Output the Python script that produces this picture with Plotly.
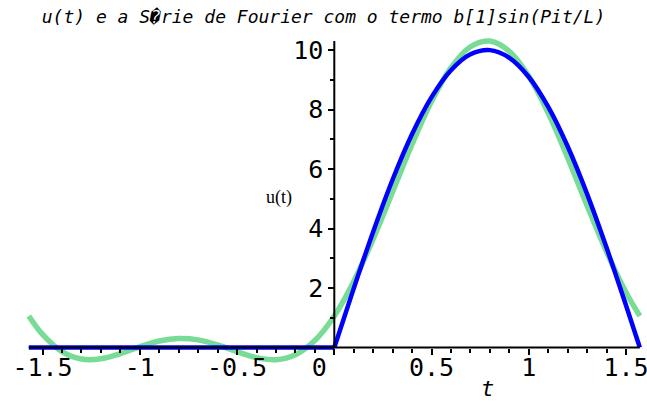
import plotly.graph_objects as go

# Fourier partial sum (green)
t_fourier = [-1.5708, -1.5, -1.4, -1.3, -1.2, -1.1, -1.0, -0.9, -0.8, -0.7, -0.6, -0.5, -0.4, -0.3,
             -0.2, -0.1, 0.0, 0.1, 0.2, 0.3, 0.4, 0.5, 0.6, 0.7, 0.8, 0.9, 1.0, 1.1, 1.2, 1.3,
             1.4, 1.5, 1.5708]
u_fourier = [1.061, 0.440, -0.138, -0.389, -0.380, -0.207, 0.024, 0.217, 0.304, 0.256, 0.088, -0.141,
             -0.342, -0.409, -0.242, 0.235, 1.061, 2.222, 3.652, 5.237, 6.832, 8.274, 9.408, 10.110,
             10.300, 9.955, 9.117, 7.878, 6.375, 4.766, 3.212, 1.851, 1.061]

# u(t) (blue): zero on the left half, a sine arch on the right half
t_u = [-1.5708, 0.0, None, 0.0, 0.1, 0.2, 0.3, 0.4, 0.5, 0.6, 0.7, 0.8, 0.9, 1.0, 1.1, 1.2, 1.3,
       1.4, 1.5, 1.5708]
u_vals = [0.0, 0.0, None, 0.0, 1.987, 3.894, 5.646, 7.174, 8.415, 9.320, 9.854, 9.996, 9.738,
          9.093, 8.085, 6.755, 5.155, 3.350, 1.411, 0.0]

x_tickvals = [-1.5, -1, -0.5, 0, 0.5, 1, 1.5]
x_ticktext = ["-1.5", "-1", "-0.5", "0\u00a0\u00a0", "0.5", "1", "1.5"]
x_minorvals = [-1.4, -1.3, -1.2, -1.1, -0.9, -0.8, -0.7, -0.6, -0.4, -0.3, -0.2, -0.1,
               0.1, 0.2, 0.3, 0.4, 0.6, 0.7, 0.8, 0.9, 1.1, 1.2, 1.3, 1.4]
y_tickvals = [2, 4, 6, 8, 10]
y_ticktext = ["2", "4", "6", "8", "10"]
y_minorvals = [1, 3, 5, 7, 9]

title_text = "u(t) e a S\ufffdrie de Fourier com o termo b[1]sin(Pit/L)"

W, H = 647, 402
x0_px, y0_px = 334.3, 347.5
x_scale, y_scale = 194.5, 29.75

fig = go.Figure()
fig.add_trace(go.Scatter(x=t_fourier, y=u_fourier, mode="lines",
                         line=dict(color="#78DC96", width=5.5, shape="spline"),
                         showlegend=False, hoverinfo="skip"))
fig.add_trace(go.Scatter(x=t_u, y=u_vals, mode="lines", connectgaps=False,
                         line=dict(color="#0000FF", width=4.5, shape="spline"),
                         showlegend=False, hoverinfo="skip"))

tmin = min(t_fourier)
tmax = max(t_fourier)
ymax = max(u_fourier)
fig.add_shape(type="line", xref="x", yref="y", x0=tmin, x1=tmax, y0=0, y1=0,
              line=dict(color="black", width=2), layer="above")
fig.add_shape(type="line", xref="x", yref="y", x0=0, x1=0, y0=0, y1=ymax,
              line=dict(color="black", width=2), layer="above")

tickfont = dict(family="DejaVu Sans Mono", size=25, color="black")

fig.update_layout(
    width=W, height=H,
    margin=dict(l=0, r=0, t=0, b=0),
    paper_bgcolor="white", plot_bgcolor="white",
    template="none",
    title=dict(text=title_text, x=0.5, xanchor="center", xref="paper",
               y=1 - 17 / H, yanchor="middle", yref="paper",
               font=dict(family="DejaVu Sans Mono", size=18, color="black", style="italic")),
    xaxis=dict(range=[-x0_px / x_scale, (W - x0_px) / x_scale],
               anchor="free", position=(H - y0_px) / H,
               showline=False, showgrid=False, zeroline=False,
               tickmode="array", tickvals=x_tickvals, ticktext=x_ticktext,
               ticks="outside", ticklen=6, tickwidth=2, tickcolor="black",
               tickfont=tickfont, automargin=False,
               ticklabeloverflow="allow", ticklabelstandoff=-9,
               minor=dict(tickmode="array", tickvals=x_minorvals, ticks="outside",
                          ticklen=4, tickwidth=2, tickcolor="black", showgrid=False)),
    yaxis=dict(range=[(y0_px - H) / y_scale, y0_px / y_scale],
               anchor="free", position=x0_px / W,
               showline=False, showgrid=False, zeroline=False,
               tickmode="array", tickvals=y_tickvals, ticktext=y_ticktext,
               ticks="outside", ticklen=6, tickwidth=2, tickcolor="black",
               tickfont=tickfont, automargin=False, ticklabeloverflow="allow",
               minor=dict(tickmode="array", tickvals=y_minorvals, ticks="outside",
                          ticklen=4, tickwidth=2, tickcolor="black", showgrid=False)),
    annotations=[
        dict(text="u(t)", x=279 / W, y=1 - 197 / H, xref="paper", yref="paper",
             showarrow=False, xanchor="center", yanchor="middle",
             font=dict(family="Liberation Serif", size=18, color="black")),
        dict(text="t", x=487 / W, y=1 - 388 / H, xref="paper", yref="paper",
             showarrow=False, xanchor="center", yanchor="middle",
             font=dict(family="DejaVu Sans Mono", size=22, color="black", style="italic")),
    ],
)

fig.write_html("out.html", config={"displayModeBar": False},
               post_script="document.body.style.margin='0';document.body.style.overflow='hidden';")
